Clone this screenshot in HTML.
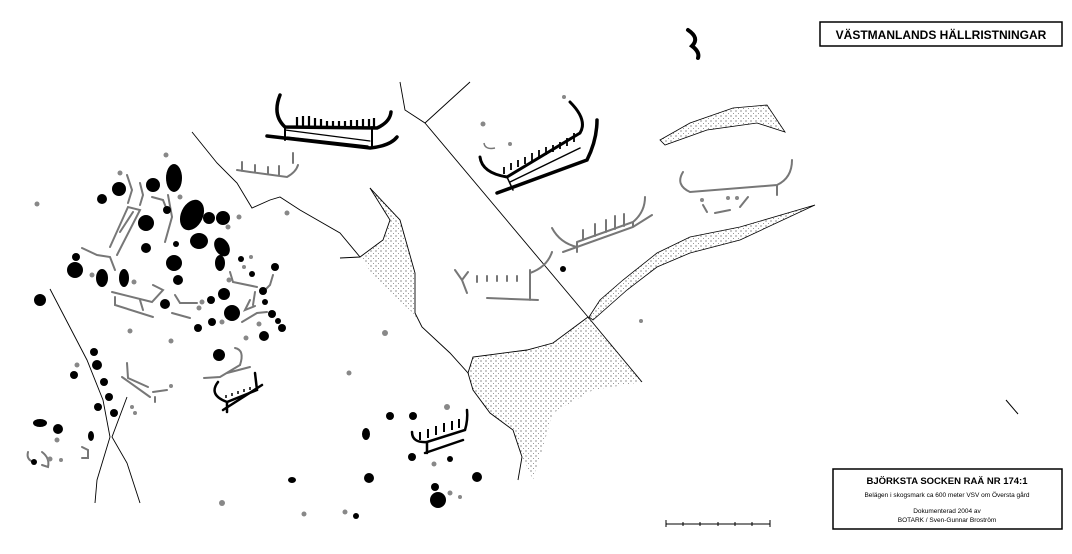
<!DOCTYPE html>
<html><head><meta charset="utf-8"><style>
body{margin:0;background:#fff;width:1072px;height:549px;overflow:hidden;font-family:"Liberation Sans",sans-serif}
</style></head><body>
<svg width="1072" height="549" viewBox="0 0 1072 549" xmlns="http://www.w3.org/2000/svg">
<defs><pattern id="st" width="5" height="5" patternUnits="userSpaceOnUse"><circle cx="1" cy="1" r="0.6" fill="#444"/><circle cx="3.5" cy="3.5" r="0.5" fill="#777"/></pattern></defs>
<rect width="1072" height="549" fill="#fff"/>
<rect x="820" y="22" width="242" height="24" fill="#fff" stroke="#000" stroke-width="1.5"/>
<text x="941" y="39" font-size="12" font-weight="bold" text-anchor="middle">VÄSTMANLANDS HÄLLRISTNINGAR</text>
<rect x="833" y="469" width="229" height="60" fill="#fff" stroke="#000" stroke-width="1.5"/>
<text x="947" y="484" font-size="9.5" font-weight="bold" text-anchor="middle">BJÖRKSTA SOCKEN RAÄ NR 174:1</text>
<text x="947" y="497" font-size="6.5" text-anchor="middle">Belägen i skogsmark ca 600 meter VSV om Översta gård</text>
<text x="947" y="513" font-size="6.5" text-anchor="middle">Dokumenterad 2004 av</text>
<text x="947" y="522" font-size="6.5" text-anchor="middle">BOTARK / Sven-Gunnar Broström</text>
<line x1="666" y1="524" x2="770" y2="524" stroke="#000"/>
<g stroke="#000"><line x1="666" y1="520" x2="666" y2="527"/><line x1="770" y1="520" x2="770" y2="527"/><line x1="683" y1="522" x2="683" y2="526"/><line x1="700" y1="522" x2="700" y2="526"/><line x1="718" y1="522" x2="718" y2="526"/><line x1="735" y1="522" x2="735" y2="526"/><line x1="752" y1="522" x2="752" y2="526"/></g>
<line x1="1006" y1="400" x2="1018" y2="414" stroke="#000"/>
<!-- stipple -->
<g fill="url(#st)" stroke="none">
<path d="M370 188 L400 220 L415 273 L415 313 L422 327 L413 313 L377 280 L360 257 L383 240 L390 220 Z"/>
<path d="M473 357 L527 350 L553 343 L588 317 L642 382 L593 390 L553 413 L533 480 L522 457 L513 430 L490 413 L473 390 L468 373 Z"/>
</g>
<g fill="url(#st)" stroke="#000" stroke-width="0.8">
<path d="M589 317 L600 300 L623 280 L657 253 L690 237 L740 227 L815 205 L740 240 L690 253 L657 267 L627 290 L593 320 Z"/>
<path d="M660 140 L690 123 L733 108 L767 105 L785 132 L757 123 L707 130 L665 145 Z"/>
</g>
<!-- cracks -->
<g fill="none" stroke="#000" stroke-width="0.9">
<path d="M400 82 L405 110 L425 123 L470 82"/>
<path d="M425 123 L588 317 L642 382"/>
<path d="M370 188 L390 220 L383 240 L360 257 L340 258"/>
<path d="M370 188 L400 220 L415 273 L415 313 L422 327 L450 353 L468 373 L473 390 L490 413 L513 430 L522 457 L518 480"/>
<path d="M468 373 L473 357 L527 350 L553 343 L588 317"/>
<path d="M192 132 L217 163 L237 183 L252 208 L270 200 L280 197 L300 210 L340 233 L360 257"/>
<path d="M50 289 L87 360 L103 400 L110 437 L97 480 L95 503"/>
<path d="M127 397 L112 437 L127 463 L140 503"/>
</g>
<!-- black boats -->
<g fill="none" stroke="#000" stroke-linecap="round">
<path d="M280 95 Q272 115 285 127 L377 128 Q390 122 391 112" stroke-width="3.5"/>
<path d="M267 136 L370 148 Q390 146 397 137" stroke-width="3.5"/>
<path d="M285 130 L370 141 M287 137 L368 146" stroke-width="1.2"/>
<path d="M285 127 V140 M372 127 V147" stroke-width="2"/>
<path d="M480 157 Q482 173 507 177 L580 133 Q588 120 570 102" stroke-width="3"/>
<path d="M497 193 L587 160 Q597 140 597 120" stroke-width="3.5"/>
<path d="M507 177 L513 190 M510 182 L580 148" stroke-width="1.5"/>
<path d="M412 432 Q412 443 427 442 L465 430 Q468 420 467 410" stroke-width="2.5"/>
<path d="M425 453 L463 440 M427 442 V453" stroke-width="2.5"/>
<path d="M235 348 Q245 350 240 365" stroke="#777" stroke-width="2"/>
<path d="M204 378 L220 377 L240 365 M227 373 L250 367" stroke="#777" stroke-width="2"/>
<path d="M218 382 Q208 395 227 402 L257 390 L255 373" stroke-width="2.5"/>
<path d="M223 410 L262 385 M227 402 V412" stroke-width="2.5"/>
<path d="M688 30 Q700 38 692 46 Q700 52 698 58" stroke-width="4"/>
</g>
<g stroke="#000" stroke-width="2.2">
<path d="M297 127 V117 M303 127 V116 M309 127 V116 M315 127 V118 M321 127 V119 M327 127 V121 M333 127 V121 M339 127 V121 M345 127 V121 M351 127 V120 M357 127 V120 M363 127 V119 M369 127 V119 M374 127 V118"/>
<path d="M504 174 V167 M511 170 V163 M518 167 V160 M525 164 V157 M532 161 V153 M539 158 V150 M546 155 V147 M553 152 V145 M560 149 V142 M567 146 V138 M574 142 V133" stroke-width="1.8"/>
<path d="M420 440 V432 M428 438 V429 M436 435 V426 M444 432 V423 M452 430 V421 M459 428 V419" stroke-width="2"/>
<path d="M226 398 V395 M232 396 V393 M238 394 V391 M244 392 V389 M250 390 V387" stroke-width="1.5"/>
</g>
<!-- gray figures -->
<g fill="none" stroke="#777" stroke-width="2" stroke-linecap="round">
<path d="M237 170 L250 172 L287 177 Q296 172 298 165 M242 162 V171 M255 165 V172 M268 167 V174 M279 166 V175 M293 153 V163"/>
<path d="M552 228 Q560 243 577 247 M563 252 L633 227 L652 215 M577 242 L633 222 Q645 212 645 197 M577 242 V252 M633 222 V227 M583 240 V230 M595 236 V224 M606 232 V220 M615 229 V216 M624 226 V214"/>
<path d="M683 172 Q675 185 690 192 L777 185 Q792 178 792 160 M777 185 V195 M703 205 L707 212 M715 213 L730 210 M740 207 L748 197"/>
<path d="M455 270 L462 280 L467 293 M462 280 L468 272 M477 276 V282 M487 276 V281 M497 276 V281 M507 276 V281 M517 276 V281 M487 298 L538 300 M530 270 V300 M530 273 Q547 267 552 252"/>
<path d="M82 248 L97 255 L110 257 L115 270 M110 247 L128 207 L140 210 L117 255 M127 175 L132 190 L128 203 M140 183 L143 195 L140 205 M120 232 L133 212 M152 197 L163 200 L167 210 M168 195 L172 217 L165 242"/>
<path d="M112 292 L152 302 L163 290 L153 285 M115 297 V305 L153 317 M140 300 L143 310"/>
<path d="M175 295 L180 303 L197 303 M172 313 L190 318 M230 272 L233 282 L257 287 M250 300 L245 310 L255 306 M242 322 L257 313 L267 312 M255 292 L253 305 M273 275 L270 285 L265 290"/>
<path d="M127 363 L128 378 L148 387 M122 377 L150 397 M153 392 L167 390 M155 397 V402"/>
<path d="M28 452 Q26 460 34 462 M42 452 Q50 458 48 467 L42 465 M82 447 L88 450 L88 458 L82 458"/>
</g>
<!-- black dots -->
<g fill="#000">
<ellipse cx="174" cy="178" rx="8" ry="14"/><circle cx="153" cy="185" r="7"/><circle cx="119" cy="189" r="7"/><circle cx="102" cy="199" r="5"/>
<ellipse cx="192" cy="215" rx="11" ry="16" transform="rotate(25 192 215)"/><circle cx="146" cy="223" r="8"/><circle cx="209" cy="218" r="6"/><circle cx="223" cy="218" r="7"/><circle cx="167" cy="210" r="4"/>
<circle cx="146" cy="248" r="5"/><ellipse cx="199" cy="241" rx="9" ry="8"/><ellipse cx="222" cy="247" rx="7" ry="10" transform="rotate(-30 222 247)"/>
<circle cx="174" cy="263" r="8"/><circle cx="178" cy="280" r="5"/><circle cx="176" cy="244" r="3"/>
<circle cx="75" cy="270" r="8"/><circle cx="76" cy="257" r="4"/><ellipse cx="102" cy="278" rx="6" ry="9"/><ellipse cx="124" cy="278" rx="5" ry="9"/><ellipse cx="220" cy="263" rx="5" ry="8"/>
<circle cx="40" cy="300" r="5"/><circle cx="165" cy="304" r="5"/><circle cx="224" cy="294" r="6"/><circle cx="211" cy="300" r="4"/><circle cx="232" cy="313" r="8"/>
<circle cx="212" cy="322" r="4"/><circle cx="198" cy="328" r="4"/><circle cx="241" cy="259" r="3"/><circle cx="252" cy="274" r="3"/><circle cx="275" cy="267" r="4"/>
<circle cx="263" cy="291" r="4"/><circle cx="265" cy="302" r="3"/><circle cx="272" cy="314" r="4"/><circle cx="278" cy="321" r="3"/><circle cx="282" cy="328" r="4"/><circle cx="264" cy="336" r="5"/>
<circle cx="40" cy="300" r="6"/><circle cx="94" cy="352" r="4"/><circle cx="97" cy="365" r="5"/><circle cx="74" cy="375" r="4"/><circle cx="104" cy="382" r="4"/><circle cx="109" cy="397" r="4"/><circle cx="98" cy="407" r="4"/><circle cx="114" cy="413" r="4"/>
<ellipse cx="40" cy="423" rx="7" ry="4"/><circle cx="58" cy="429" r="5"/><ellipse cx="91" cy="436" rx="3" ry="5"/><circle cx="34" cy="462" r="3"/>
<circle cx="219" cy="355" r="6"/><circle cx="563" cy="269" r="3"/>
<circle cx="390" cy="416" r="4"/><circle cx="413" cy="416" r="4"/><ellipse cx="366" cy="434" rx="4" ry="6"/><circle cx="412" cy="457" r="4"/><circle cx="450" cy="459" r="3"/>
<circle cx="369" cy="478" r="5"/><ellipse cx="292" cy="480" rx="4" ry="3"/><circle cx="356" cy="516" r="3"/><circle cx="435" cy="487" r="4"/><circle cx="438" cy="500" r="8"/><circle cx="477" cy="477" r="5"/>
</g>
<g fill="#888">
<circle cx="166" cy="155" r="2.5"/><circle cx="120" cy="173" r="2.5"/><circle cx="37" cy="204" r="2.5"/><circle cx="180" cy="197" r="2.5"/><circle cx="239" cy="217" r="2.5"/><circle cx="228" cy="227" r="2.5"/><circle cx="287" cy="213" r="2.5"/>
<circle cx="92" cy="275" r="2.5"/><circle cx="134" cy="282" r="2.5"/><circle cx="251" cy="257" r="2"/><circle cx="244" cy="267" r="2"/><circle cx="229" cy="280" r="2.5"/><circle cx="202" cy="302" r="2.5"/><circle cx="199" cy="308" r="2.5"/>
<circle cx="222" cy="322" r="2.5"/><circle cx="259" cy="324" r="2.5"/><circle cx="246" cy="338" r="2.5"/><circle cx="130" cy="331" r="2.5"/><circle cx="171" cy="341" r="2.5"/>
<circle cx="77" cy="365" r="2.5"/><circle cx="57" cy="440" r="2.5"/><circle cx="50" cy="459" r="2.5"/><circle cx="61" cy="460" r="2"/><circle cx="132" cy="407" r="2"/><circle cx="135" cy="413" r="2"/><circle cx="171" cy="386" r="2"/>
<circle cx="385" cy="333" r="3"/><circle cx="349" cy="373" r="2.5"/><circle cx="447" cy="407" r="3"/><circle cx="434" cy="464" r="2.5"/><circle cx="222" cy="503" r="3"/><circle cx="304" cy="514" r="2.5"/><circle cx="345" cy="512" r="2.5"/><circle cx="450" cy="493" r="2.5"/><circle cx="460" cy="497" r="2"/>
<circle cx="483" cy="124" r="2.5"/><circle cx="510" cy="144" r="2"/><circle cx="564" cy="97" r="2"/><circle cx="641" cy="321" r="2"/><circle cx="702" cy="200" r="2"/><circle cx="728" cy="198" r="2"/><circle cx="737" cy="198" r="2"/>
</g>
<path d="M484 143 Q485 150 495 148" fill="none" stroke="#777" stroke-width="1.5"/>
</svg>
</body></html>
